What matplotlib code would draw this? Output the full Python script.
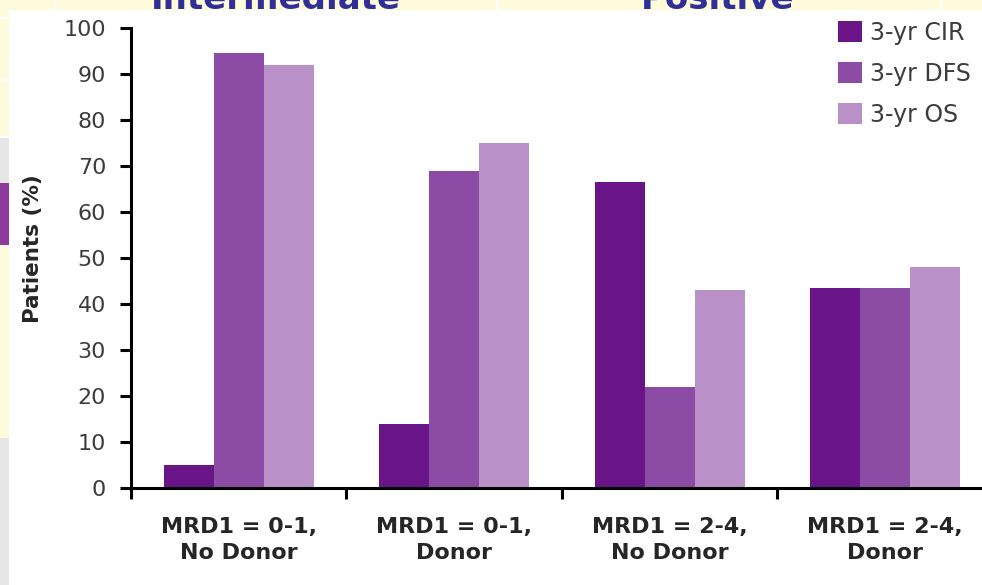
import matplotlib
matplotlib.use("Agg")
import matplotlib.pyplot as plt
import numpy as np
from matplotlib.patches import Rectangle

categories = ["MRD1 = 0-1,\nNo Donor", "MRD1 = 0-1,\nDonor",
              "MRD1 = 2-4,\nNo Donor", "MRD1 = 2-4,\nDonor"]
series_names = ["3-yr CIR", "3-yr DFS", "3-yr OS"]
cir = [5, 14, 66.5, 43.5]
dfs = [94.5, 69, 22, 43.5]
os_ = [92, 75, 43, 48]
yticks = [0, 10, 20, 30, 40, 50, 60, 70, 80, 90, 100]
header_words = ["Intermediate", "Positive"]

colors = ["#691487", "#8c4ba5", "#b991c8"]

W, H = 982, 585
fig = plt.figure(figsize=(W / 100, H / 100), dpi=100)
yellow = "#fefbdc"
fig.patch.set_facecolor(yellow)

def px_rect(x0, y0, x1, y1, color, z):
    r = Rectangle((x0 / W, 1 - y1 / H), (x1 - x0) / W, (y1 - y0) / H,
                  transform=fig.transFigure, facecolor=color, edgecolor="none",
                  zorder=z)
    fig.patches.append(r)

# left strip decorations
px_rect(0, 137, 10, 183, "#e6e6e6", 0.1)
px_rect(0, 183, 10, 245, "#8e3a9c", 0.1)
px_rect(0, 438, 10, 585, "#e6e6e6", 0.1)
for yy in [18, 80, 137]:
    px_rect(0, yy - 1, 10, yy + 1, "#ffffff", 0.15)
for xx in [55, 497, 941]:
    px_rect(xx - 1, 0, xx + 1, 12, "#ffffff", 0.15)

# header words (partly hidden by the chart panel, as in the source slide)
fig.text(276 / W, 1 - 9 / H, header_words[0], ha="center", va="baseline",
         fontsize=24.5, fontweight="bold", color="#2f2f96", zorder=0.2)
fig.text(718 / W, 1 - 9 / H, header_words[1], ha="center", va="baseline",
         fontsize=24.5, fontweight="bold", color="#2f2f96", zorder=0.2)

# white panel
px_rect(9, 10, W, H, "#ffffff", 0.3)

ax = fig.add_axes([131 / W, 97 / H, 851 / W, 460 / H])
ax.set_zorder(5)
ax.patch.set_alpha(0)

x = np.arange(len(categories))
w = 0.232
b1 = ax.bar(x - w, cir, w, color=colors[0], label=series_names[0])
b2 = ax.bar(x, dfs, w, color=colors[1], label=series_names[1])
b3 = ax.bar(x + w, os_, w, color=colors[2], label=series_names[2])

ax.set_xlim(-0.5, 3.45)
ax.set_ylim(0, 100)
ax.spines["top"].set_visible(False)
ax.spines["right"].set_visible(False)
ax.spines["left"].set_linewidth(2.2)
ax.spines["bottom"].set_linewidth(2.2)
ax.spines["bottom"].set_bounds(-0.5, 3.45)

ax.set_yticks(yticks)
ax.set_yticklabels([str(v) for v in yticks])
ax.tick_params(axis="y", direction="out", length=8, width=2.2, pad=10,
               labelsize=16, labelcolor="#3c3c3c")
ax.set_xticks([-0.5, 0.5, 1.5, 2.5])
ax.set_xticklabels([])
ax.tick_params(axis="x", direction="out", length=8, width=2.2)

for i, c in enumerate(categories):
    ax.text(i, -0.113, c, transform=ax.get_xaxis_transform(), ha="center",
            va="center", multialignment="center", fontsize=16,
            fontweight="bold", color="#262626", linespacing=1.4)

fig.text(33 / W, 1 - 249 / H, "Patients (%)", rotation=90, ha="center",
         va="center", fontsize=15.5, fontweight="bold", color="#262626",
         zorder=6)

leg = ax.legend(handles=[b1, b2, b3], loc="upper left",
                bbox_to_anchor=(838 / W, 1 - 21 / H),
                bbox_transform=fig.transFigure, frameon=False,
                fontsize=17, handlelength=1.0, handleheight=1.0,
                handletextpad=0.35, labelspacing=0.72, borderpad=0,
                borderaxespad=0)
for t in leg.get_texts():
    t.set_color("#3c3c3c")

fig.savefig("out.png", dpi=100, facecolor=fig.get_facecolor())
